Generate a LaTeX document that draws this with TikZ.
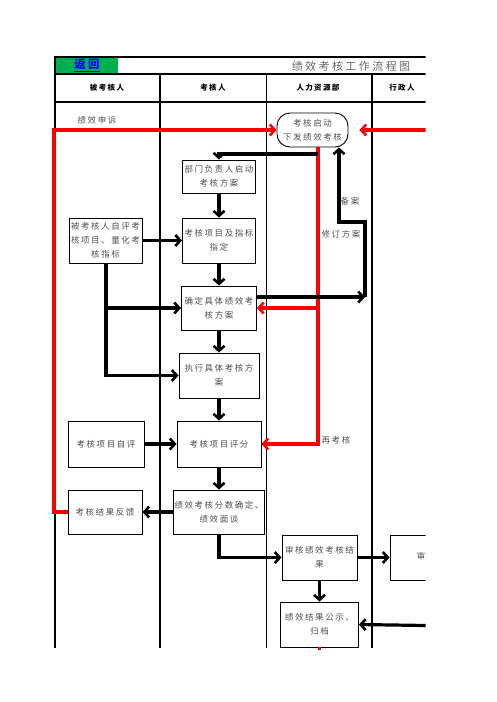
\documentclass[tikz,border=0pt]{standalone}
\usepackage{fontspec}
\newfontfamily\cjk{Noto Sans CJK SC}[LetterSpace=18]
\newfontfamily\cjkt{Noto Sans CJK SC}[LetterSpace=22]
\usetikzlibrary{arrows.meta}
\definecolor{xlgreen}{RGB}{0,176,80}
\definecolor{txtgray}{RGB}{80,80,80}
\begin{document}
\begin{tikzpicture}[x=1pt,y=-1pt,
  box/.style={draw=black, line width=0.9pt, fill=white, align=center, inner sep=1pt,
    font=\cjk\fontsize{8.5}{14}\selectfont, text=txtgray},
  lbl/.style={font=\cjk\fontsize{8.5}{14}\selectfont, text=txtgray, inner sep=0pt},
  hdr/.style={font=\cjk\bfseries\fontsize{7.5}{9}\selectfont, text=black, inner sep=0pt},
  tip/.style={-{Straight Barb[length=5pt,width=11pt,line width=2.6pt]}},
  blk/.style={line width=3.2pt, black, tip},
  rd/.style={line width=3.2pt, red, tip},
  thickcol/.style={line width=2.2pt, black},
  thincol/.style={line width=1pt, black}
]
\useasboundingbox (0,0) rectangle (496,702);
\clip (0,0) rectangle (425.5,702);

% table frame
\fill[xlgreen] (55,57) rectangle (118,74);
\draw[thickcol] (54,57) -- (426,57);
\draw[thickcol] (54,74) -- (426,74);
\draw[line width=2.6pt] (54,102) -- (426,102);
\draw[thickcol] (55,56) -- (55,648);
\draw[thickcol] (160,74) -- (160,648);
\draw[thincol] (266,74) -- (266,648);
\draw[thickcol] (372,74) -- (372,648);

\node[font=\cjk\bfseries\fontsize{11.5}{12}\selectfont, text=blue, inner sep=0pt] (back) at (87,65) {\underline{返回}};
\node[font=\cjkt\fontsize{11}{12}\selectfont, text=black!60, inner sep=0pt] (title) at (351,66) {绩效考核工作流程图};

\node[hdr] (h1) at (107,88) {被考核人};
\node[hdr] (h2) at (213,88) {考核人};
\node[hdr] (h3) at (318,88) {人力资源部};
\node[hdr] (h4) at (402,88) {行政人};

% nodes
\node[box, rounded corners=13pt, minimum width=71pt, minimum height=34pt] (start) at (312.5,130) {考核启动\\下发绩效考核};
\node[box, minimum width=73pt, minimum height=33pt] (bumen) at (219,176.5) {部门负责人启动\\考核方案};
\node[box, minimum width=73pt, minimum height=45pt] (zhiding) at (219,240.5) {考核项目及指标\\指定};
\node[box, minimum width=73pt, minimum height=45pt] (zipin) at (105.5,240.5) {被考核人自评考\\核项目、量化考\\核指标};
\node[box, minimum width=75pt, minimum height=44pt] (queding) at (219,308) {确定具体绩效考\\核方案};
\node[box, minimum width=80pt, minimum height=45pt] (zhixing) at (219,375.5) {执行具体考核方\\案};
\node[box, minimum width=84pt, minimum height=46pt] (pingfen) at (219,444) {考核项目评分};
\node[box, minimum width=76pt, minimum height=46pt] (xmzp) at (106,444) {考核项目自评};
\node[box, minimum width=84pt, minimum height=44pt] (fenshu) at (219,512) {绩效考核分数确定、\\绩效面谈};
\node[box, minimum width=74pt, minimum height=44pt] (fankui) at (105,512) {考核结果反馈};
\node[box, minimum width=75pt, minimum height=45pt] (shenhe) at (319.5,557.5) {审核绩效考核结\\果};
\node[box, minimum width=75pt, minimum height=45pt] (shenhe2) at (427.5,557.5) {};
\node[lbl] (shenhet) at (421,556) {审};
\node[box, minimum width=78pt, minimum height=45pt] (gongshi) at (319.5,624.5) {绩效结果公示、\\归档};

% labels
\node[lbl] (l1) at (97,120) {绩效申诉};
\node[lbl] (l2) at (350,201) {备案};
\node[lbl] (l3) at (341,234) {修订方案};
\node[lbl] (l4) at (336,440) {再考核};

% coordinates
\coordinate (lx) at (54,130);
\coordinate (rr) at (426,130);
\coordinate (rx) at (318,0);
\coordinate (b1) at (318,154);
\coordinate (c1) at (365,297);
\coordinate (c2) at (339,222);
\coordinate (zx) at (106,0);
\coordinate (gr) at (426,625.5);

% red connectors
\draw[rd] (fankui.west) -| (lx) -- (start.west);
\draw[rd, shorten >=11pt] (rr) -- (start.east);
\draw[rd] (start.south -| rx) |- (pingfen.east);
\draw[rd] (queding.east -| rx) -- (queding.east);

% black connectors
\draw[blk] (b1) -| (bumen.north);
\draw[blk] (bumen.south) -- (zhiding.north);
\draw[blk] (zipin.east) -- (zhiding.west);
\draw[blk] (zhiding.south) -- (queding.north);
\draw[blk] (zipin.south -| zx) |- (zhixing.west);
\draw[blk] (queding.west -| zx) -- (queding.west);
\draw[blk] (queding.east |- c1) -- (c1);
\draw[blk] (c1) |- (c2) -- (start.south -| c2);
\draw[blk] (queding.south) -- (zhixing.north);
\draw[blk] (zhixing.south) -- (pingfen.north);
\draw[blk] (xmzp.east) -- (pingfen.west);
\draw[blk] (pingfen.south) -- (fenshu.north);
\draw[blk] (fenshu.west) -- (fankui.east);
\draw[blk] (fenshu.south) |- (shenhe.west);
\draw[blk] (shenhe.east) -- (shenhe2.west);
\draw[blk] (shenhe.south) -- (gongshi.north);
\draw[blk] (gr) -- (gongshi.east);
\draw[line width=2.4pt, red] (gongshi.south) -- ++(0,2.5);
\end{tikzpicture}
\end{document}
